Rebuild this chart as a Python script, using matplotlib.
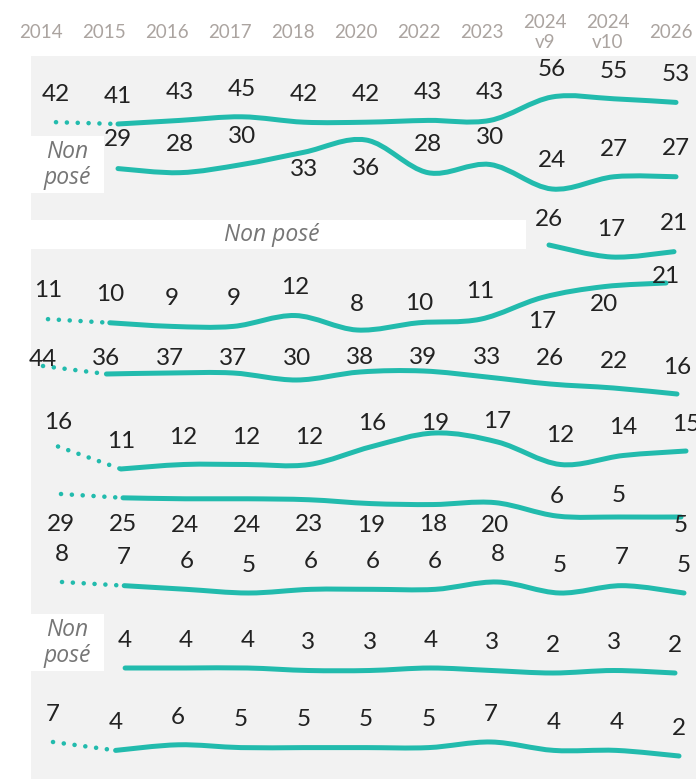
import numpy as np
import matplotlib
matplotlib.use("Agg")
import matplotlib.pyplot as plt
from matplotlib.patches import Rectangle, PathPatch
from matplotlib.path import Path

# ---------------------------------------------------------
# DATA
# ---------------------------------------------------------

years = ["2014", "2015", "2016", "2017", "2018", "2020", "2022", "2023",
         "2024\nv9", "2024\nv10", "2026"]

# one list per row, None = question not asked that year
s1 = [42, 41, 43, 45, 42, 42, 43, 43, 56, 55, 53]
s2 = [None, 29, 28, 30, 33, 36, 28, 30, 24, 27, 27]
s3 = [None, None, None, None, None, None, None, None, 26, 17, 21]
s4 = [11, 10, 9, 9, 12, 8, 10, 11, 17, 20, 21]
s5 = [44, 36, 37, 37, 30, 38, 39, 33, 26, 22, 16]
s6 = [16, 11, 12, 12, 12, 16, 19, 17, 12, 14, 15]
s7 = [29, 25, 24, 24, 23, 19, 18, 20, 6, 5, 5]
s8 = [8, 7, 6, 5, 6, 6, 6, 8, 5, 7, 5]
s9 = [None, 4, 4, 4, 3, 3, 4, 3, 2, 3, 2]
s10 = [7, 4, 6, 5, 5, 5, 5, 7, 4, 4, 2]

rows = [s1, s2, s3, s4, s5, s6, s7, s8, s9, s10]

NOT_ASKED = "Non posé"

# ---------------------------------------------------------
# LAYOUT (pixels)
# ---------------------------------------------------------

W, H = 696, 779
TEAL = "#22BBAD"
GREY_BG = "#F2F2F2"
HEAD_COL = "#ABA4A0"
TXT_COL = "#222222"
NP_COL = "#767676"

# x of 2014, column step, (value, pixel y) for low and high end of the row scale
row_layout = [
    (56, 62.0, 41, 124, 56, 97),
    (56, 62.0, 24, 189, 36, 140),
    (49, 62.5, 17, 257, 26, 245),
    (48, 61.8, 8, 330, 21, 283),
    (43, 63.4, 16, 394, 44, 366),
    (58, 62.8, 11, 469, 19, 433),
    (61, 62.0, 5, 517, 29, 494),
    (62, 62.2, 5, 593, 8, 582),
    (64, 61.1, 2, 673, 4, 668),
    (53, 62.6, 2, 756, 7, 742),
]

# label distance above the line (px), negative = below
label_dy = {
    1: [0, 31, 30, 30, -15, -26, 30, 29, 31, 29, 30],
    2: [0, 0, 0, 0, 0, 0, 0, 0, 28, 30, 30],
    3: [31, 30, 30, 30, 30, 28, 21, 30, -22, -16, 9],
    4: [9, 18, 17, 17, 24, 17, 16, 22, 28, 29, 29],
    5: [26, 30, 29, 29, 29, 25, 12, 23, 31, 30, 29],
    6: [-28, -24, -24, -24, -23, -20, -18, -21, 22, 24, -6],
}
DEFAULT_DY = 30

LABEL_FS = 17.5
HEAD_FS = 13.5
NP_FS = 16.5

plt.rcParams["font.family"] = ["Lato", "DejaVu Sans"]


def smooth_path(xs, ys):
    pts = np.column_stack([xs, ys]).astype(float)
    n = len(pts)
    verts = [pts[0]]
    codes = [Path.MOVETO]
    for i in range(n - 1):
        p_prev = pts[i - 1] if i > 0 else pts[i]
        p_next = pts[i + 2] if i + 2 < n else pts[i + 1]
        c1 = pts[i] + (pts[i + 1] - p_prev) / 6
        c2 = pts[i + 1] - (p_next - pts[i]) / 6
        verts += [c1, c2, pts[i + 1]]
        codes += [Path.CURVE4] * 3
    return Path(verts, codes)


fig = plt.figure(figsize=(W / 100, H / 100), dpi=100)

# background / header axes in pixel coords
base = fig.add_axes([0, 0, 1, 1])
base.set_xlim(0, W)
base.set_ylim(H, 0)
base.axis("off")

base.add_patch(Rectangle((31, 56), W - 31, H - 56, color=GREY_BG, lw=0))
base.add_patch(Rectangle((31, 136), 73, 57, color="white", lw=0))
base.add_patch(Rectangle((31, 220), 495, 29, color="white", lw=0))
base.add_patch(Rectangle((31, 614), 73, 57, color="white", lw=0))

np_style = dict(ha="center", va="center", fontsize=NP_FS, style="italic",
                color=NP_COL, family="Open Sans")
base.text(67.5, 165, "Non\nposé", linespacing=1.12, **np_style)
base.text(272, 235, NOT_ASKED, **np_style)
base.text(67.5, 643, "Non\nposé", linespacing=1.12, **np_style)

for i, lab in enumerate(years):
    y = 48 if "\n" in lab else 38
    base.text(41 + 63 * i, y, lab, ha="center", va="baseline",
              fontsize=HEAD_FS, color=HEAD_COL, linespacing=1.2)

# ---------------------------------------------------------
# ROWS
# ---------------------------------------------------------

digit_half = LABEL_FS / 72 * 100 * 0.717 / 2

for r, vals in enumerate(rows):
    x0, dx, lo_v, lo_p, hi_v, hi_p = row_layout[r]
    ax = fig.add_axes([x0 / W, 1 - lo_p / H, 10 * dx / W, (lo_p - hi_p) / H])
    ax.set_xlim(0, 10)
    ax.set_ylim(lo_v, hi_v)
    ax.axis("off")

    idx = [i for i, v in enumerate(vals) if v is not None]
    start = idx[0]
    if start == 0:
        ax.plot([0, 1], [vals[0], vals[1]], color=TEAL, lw=3.3,
                linestyle=(0, (0.01, 2.36)), dash_capstyle="round",
                clip_on=False)
        solid = idx[1:]
    else:
        solid = idx
    path = smooth_path(solid, [vals[i] for i in solid])
    patch = PathPatch(path, fill=False, edgecolor=TEAL, lw=3.6,
                      capstyle="round", clip_on=False)
    ax.add_patch(patch)

    dys = label_dy.get(r, [DEFAULT_DY] * len(vals))
    for i in idx:
        ax.annotate(str(vals[i]), (i, vals[i]),
                    xytext=(0, dys[i] - digit_half), textcoords="offset pixels",
                    ha="center", va="baseline", fontsize=LABEL_FS,
                    color=TXT_COL, annotation_clip=False)

fig.savefig("out.png", dpi=100)
